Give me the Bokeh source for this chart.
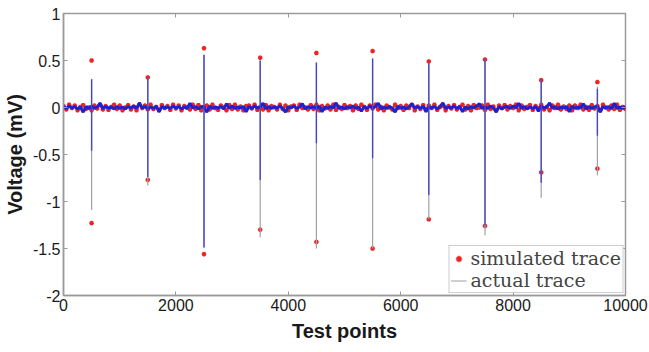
from bokeh.plotting import figure
from bokeh.models import Range1d, FixedTicker, LinearAxis, Legend, LegendItem
from bokeh.embed import file_html
from bokeh.resources import INLINE

# ---- data ----
spike_x = [500, 1500, 2500, 3500, 4500, 5500, 6500, 7500, 8500, 9500]
sim_top = [0.50, 0.32, 0.63, 0.53, 0.58, 0.60, 0.49, 0.51, 0.29, 0.27]
sim_bot = [-1.23, -0.77, -1.56, -1.30, -1.43, -1.50, -1.19, -1.26, -0.69, -0.65]
act_top = [0.30, 0.32, 0.56, 0.50, 0.48, 0.52, 0.47, 0.51, 0.29, 0.22]
act_bot = [-1.09, -0.83, -1.49, -1.38, -1.50, -1.50, -1.19, -1.36, -0.96, -0.72]
blue_top = [0.30, 0.32, 0.56, 0.50, 0.48, 0.52, 0.47, 0.51, 0.29, 0.20]
blue_bot = [-0.46, -0.74, -1.49, -0.77, -0.38, -0.54, -0.93, -1.25, -0.80, -0.30]

base_x = list(range(0, 10001, 50))
sim_noise = [
    0.015, -0.02, 0.03, -0.005, 0.02, -0.03, 0.005, 0.025, -0.015, 0.0, -0.03, 0.02, -0.01, 0.03, -0.02, 0.015, -0.025, 0.005, 0.03, -0.015,
    0.02, -0.03, 0.0, 0.025, -0.02, 0.01, -0.03, 0.03, -0.005, 0.02, -0.02, 0.03, -0.015, 0.005, -0.03, 0.025, -0.005, 0.015, -0.025, 0.03,
    -0.01, 0.02, -0.03, 0.015, 0.0, -0.02, 0.03, -0.015, 0.025, -0.03, 0.005, 0.02, -0.02, 0.03, -0.005, -0.025, 0.02, 0.0, -0.03, 0.025,
    -0.015, 0.03, -0.02, 0.01, -0.03, 0.015, 0.02, -0.01, 0.03, -0.025, 0.005, -0.02, 0.025, -0.03, 0.015, 0.005, -0.02, 0.03, -0.015, 0.02,
    -0.03, 0.01, 0.02, -0.025, 0.03, -0.005, 0.0, -0.02, 0.025, -0.015, 0.03, -0.03, 0.015, -0.01, 0.02, -0.02, 0.03, -0.025, 0.005, -0.015,
    0.025, -0.005, 0.015, -0.03, 0.02, -0.015, 0.03, 0.005, -0.025, 0.02, -0.01, 0.03, -0.02, 0.005, -0.03, 0.02, 0.0, -0.02, 0.03, -0.005,
    0.015, -0.025, 0.02, -0.005, 0.03, -0.03, 0.01, -0.015, 0.025, -0.02, 0.02, -0.005, 0.03, -0.025, 0.005, 0.02, -0.03, 0.015, -0.01, 0.025,
    -0.02, 0.005, 0.03, -0.02, 0.015, -0.03, 0.025, -0.005, 0.0, 0.02, -0.025, 0.03, -0.015, 0.01, -0.03, 0.02, -0.005, 0.025, -0.02, 0.015,
    -0.005, 0.03, -0.03, 0.02, -0.015, 0.005, 0.025, -0.025, 0.015, -0.01, 0.03, -0.02, 0.005, -0.03, 0.02, -0.005, 0.03, -0.02, 0.01, -0.015,
    0.02, -0.03, 0.02, -0.005, 0.03, -0.02, 0.005, -0.025, 0.025, -0.01, 0.015, -0.03, 0.03, 0.0, -0.02, 0.02, -0.015, 0.03, -0.025, 0.005,
    -0.015]
act_noise = [
    0.01, -0.01, 0.015, -0.005, 0.01, -0.015, 0.005, -0.05, 0.01, -0.01, 0.015, -0.01, 0.005, 0.045, -0.01, 0.01, -0.005, 0.005, -0.015, 0.01,
    -0.01, 0.005, -0.015, 0.01, -0.005, 0.015, -0.01, 0.05, -0.005, 0.01, -0.015, 0.005, -0.01, 0.015, -0.045, 0.01, -0.005, 0.005, -0.01, 0.015,
    -0.005, 0.01, -0.015, 0.005, -0.01, 0.045, -0.005, 0.01, -0.015, 0.01, 0.005, -0.05, 0.015, -0.01, 0.005, -0.005, 0.01, -0.015, 0.04, -0.01,
    0.015, -0.01, 0.005, -0.005, 0.01, -0.045, 0.01, -0.01, 0.015, -0.005, 0.005, 0.045, -0.015, 0.01, -0.01, 0.005, -0.005, 0.015, -0.01, -0.05,
    0.01, -0.005, 0.015, -0.01, 0.005, 0.04, -0.015, 0.01, -0.005, 0.01, -0.01, 0.015, -0.045, 0.005, -0.01, 0.01, -0.005, 0.05, -0.01, 0.005,
    -0.015, 0.01, -0.005, 0.015, -0.01, 0.005, -0.04, 0.01, -0.01, 0.015, -0.005, 0.01, 0.045, -0.015, 0.005, -0.01, 0.01, -0.005, -0.05, 0.015,
    -0.01, 0.005, -0.015, 0.01, 0.04, -0.005, 0.01, -0.01, 0.015, -0.045, 0.005, -0.005, 0.01, -0.015, 0.01, 0.05, -0.01, 0.005, -0.005, 0.015,
    -0.01, 0.01, -0.045, 0.005, -0.015, 0.01, -0.005, 0.015, 0.04, -0.01, 0.005, -0.01, 0.015, -0.005, -0.05, 0.01, -0.015, 0.005, 0.01, -0.01,
    0.015, -0.005, 0.045, -0.01, 0.01, -0.015, 0.005, -0.01, 0.01, -0.04, 0.015, -0.005, 0.005, 0.05, -0.01, 0.01, -0.015, 0.005, -0.005, 0.01,
    -0.045, 0.015, -0.01, 0.005, -0.005, 0.04, -0.015, 0.01, -0.01, 0.005, 0.015, -0.05, 0.01, -0.005, 0.01, -0.015, 0.045, -0.01, 0.005, -0.01,
    0.01]

x_ticks = [0, 2000, 4000, 6000, 8000, 10000]
x_tick_labels = ["0", "2000", "4000", "6000", "8000", "10000"]
y_ticks = [-2, -1.5, -1, -0.5, 0, 0.5, 1]
y_tick_labels = ["-2", "-1.5", "-1", "-0.5", "0", "0.5", "1"]

sim_x = base_x + spike_x + spike_x
sim_y = sim_noise + sim_top + sim_bot

# ---- figure ----
p = figure(width=649, height=352, x_range=Range1d(0, 10000), y_range=Range1d(-2, 1),
           output_backend="svg", toolbar_location=None,
           min_border_left=61, min_border_right=24, min_border_top=13, min_border_bottom=57)
p.xgrid.visible = False
p.ygrid.visible = False
p.outline_line_color = "#9a9a9a"
p.outline_line_width = 1.5
p.background_fill_color = "white"
p.border_fill_color = "white"

RED = "#ec2424"
# simulated trace: dense red markers (the band is drawn through the same points)
p.line(base_x, sim_noise, line_color=RED, line_width=2.2)
r_sim = p.scatter(sim_x, sim_y, marker="asterisk", size=4.5, line_color=RED, line_width=1.6)
# actual trace: gray full-height spikes, blue trace on top
r_act = p.segment(x0=spike_x, y0=act_bot, x1=spike_x, y1=act_top, line_color="#a0a0a8", line_width=1.2)
p.line(base_x, act_noise, line_color="#2020cc", line_width=3.0)
p.segment(x0=spike_x, y0=blue_bot, x1=spike_x, y1=blue_top, line_color="#4848c4", line_width=1.4)

font = "Liberation Sans"
for ax in (p.xaxis[0], p.yaxis[0]):
    ax.axis_line_color = "#9a9a9a"
    ax.axis_line_width = 1.5
    ax.major_tick_line_color = "#9a9a9a"
    ax.major_tick_in = 4
    ax.major_tick_out = 0
    ax.minor_tick_line_color = None
    ax.major_label_text_font = font
    ax.major_label_text_font_size = "16px"
    ax.major_label_text_color = "#1a1a1a"
    ax.axis_label_text_font = font
    ax.axis_label_text_font_style = "bold"
    ax.axis_label_text_font_size = "20px"
    ax.axis_label_text_color = "#1a1a1a"

p.xaxis[0].ticker = FixedTicker(ticks=x_ticks)
p.xaxis[0].major_label_overrides = dict(zip(x_ticks, x_tick_labels))
p.xaxis[0].axis_label = "Test points"
p.xaxis[0].major_label_standoff = 3
p.xaxis[0].axis_label_standoff = 6

p.yaxis[0].ticker = FixedTicker(ticks=y_ticks)
p.yaxis[0].major_label_overrides = {k: v for k, v in zip(y_ticks, y_tick_labels)}
p.yaxis[0].axis_label = "Voltage (mV)"
p.yaxis[0].major_label_standoff = 3
p.yaxis[0].axis_label_standoff = 4

# mirrored ticks on top and right
top = LinearAxis(ticker=FixedTicker(ticks=x_ticks), major_label_overrides={t: "" for t in x_ticks},
                 axis_line_color=None, major_tick_line_color="#9a9a9a",
                 major_tick_in=4, major_tick_out=0, minor_tick_line_color=None)
right = LinearAxis(ticker=FixedTicker(ticks=y_ticks), major_label_overrides={t: "" for t in y_ticks},
                   axis_line_color=None, major_tick_line_color="#9a9a9a",
                   major_tick_in=4, major_tick_out=0, minor_tick_line_color=None)
p.add_layout(top, "above")
p.add_layout(right, "right")

legend = Legend(items=[LegendItem(label="simulated trace", renderers=[r_sim]),
                       LegendItem(label="actual trace", renderers=[r_act])],
                location="bottom_right", margin=2, padding=1, spacing=0,
                label_text_font="DejaVu Serif", label_text_font_size="19px",
                label_height=19, glyph_height=19, glyph_width=16, label_standoff=4,
                border_line_color="#9a9a9a", border_line_width=1.5,
                background_fill_alpha=1.0)
p.add_layout(legend)

open("out.html", "w").write(file_html(p, INLINE))
